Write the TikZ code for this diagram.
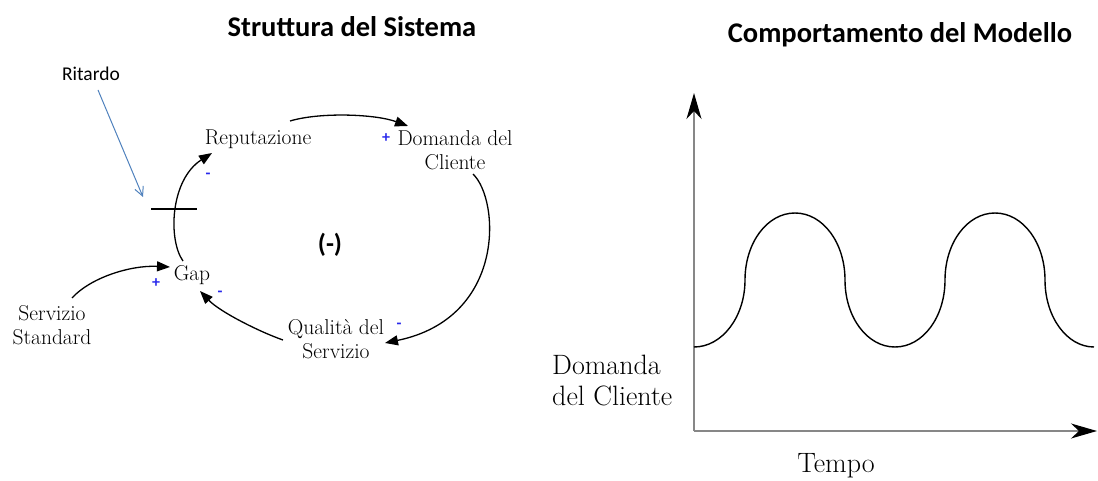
\documentclass[tikz,border=0pt]{standalone}
\usepackage{fontspec}
\newfontfamily\calibri{Carlito}
\usetikzlibrary{arrows.meta,calc}
\definecolor{signblue}{RGB}{40,40,235}
\definecolor{ritblue}{RGB}{79,129,189}
\definecolor{axisgrey}{RGB}{135,135,135}
\tikzset{
  lab/.style={font=\fontsize{21.5}{24}\selectfont, align=center, inner sep=0pt},
  biglab/.style={font=\fontsize{28}{31}\selectfont, align=left, inner sep=0pt},
  sign/.style={text=signblue, font=\calibri\bfseries\fontsize{16}{16}\selectfont, inner sep=0pt},
  title/.style={font=\calibri\bfseries\fontsize{28.5}{30}\selectfont, inner sep=0pt},
  link/.style={-{Triangle[length=13pt,width=10pt]}, line width=1.3pt},
  axis/.style={draw=axisgrey, line width=1.3pt, -{Stealth[length=26pt,width=15pt,inset=8pt,color=black]}},
}
\begin{document}
\begin{tikzpicture}[x=1pt,y=-1pt]
\useasboundingbox (0,0) rectangle (1098,481);
% titles
\node[title] (t1) at (352,27) {Struttura del Sistema};
\node[title] (t2) at (900,35) {Comportamento del Modello};
% loop nodes
\node[lab] (rep) at (258,139) {Reputazione};
\node[lab] (dom) at (455,150.5) {Domanda del\\Cliente};
\node[lab] (qual) at (336,339.5) {Qualità del\\Servizio};
\node[lab] (gap) at (192,275) {Gap};
\node[lab] (serv) at (52,325.5) {Servizio\\Standard};
\node[font=\calibri\bfseries\fontsize{26}{26}\selectfont, inner sep=0pt] (loop) at (330,245) {(-)};
\node[font=\calibri\fontsize{19.5}{20}\selectfont, inner sep=0pt] (rit) at (91,74) {Ritardo};
\coordinate (dl) at (174,209);
% signs
\node[sign] (s1) at (386,138) {+};
\node[sign] (s2) at (208,176) {-};
\node[sign] (s3) at (399,326) {-};
\node[sign] (s4) at (220,294) {-};
\node[sign] (s5) at (156,283) {+};
% connectors
\draw[link] ($(rep)+(32,-18)$) .. controls (320,112) and (375,114) .. ($(dom)+(-47,-24.5)$);
\draw[link] ($(dom)+(18,23.5)$) .. controls (500,200) and (506,318) .. ($(qual)+(49,3.5)$);
\draw[link] ($(qual)+(-53,0.5)$) .. controls (260,332) and (220,312) .. ($(gap)+(8,16)$);
\draw[link] ($(gap)+(-9,-14)$) .. controls (168,240) and (170,180) .. ($(rep)+(-46,14)$);
\draw[link] ($(serv)+(20,-27.5)$) .. controls (90,278) and (130,265) .. ($(gap)+(-22,-8)$);
% delay mark
\draw[line width=1.6pt] ($(dl)+(-23,0)$) -- ($(dl)+(23,0)$);
\draw[ritblue, line width=1pt, -{Straight Barb[length=9pt,width=9pt]}] ($(rit)+(7,16)$) -- ($(dl)+(-31,-12)$);
% graph
\coordinate (o) at (694,431);
\coordinate (ytop) at (694,93);
\coordinate (xend) at (1097,431);
\draw[axis] (o) -- (ytop);
\draw[axis] (o) -- (xend);
\draw[line width=1.4pt]
  (694,347) .. controls (722,347) and (745,317) .. (745,280)
  .. controls (745,243) and (767,213) .. (795,213)
  .. controls (823,213) and (845,243) .. (845,280)
  .. controls (845,317) and (867,347) .. (895,347)
  .. controls (923,347) and (945,317) .. (945,280)
  .. controls (945,243) and (967,213) .. (995,213)
  .. controls (1023,213) and (1045,243) .. (1045,280)
  .. controls (1045,317) and (1067,347) .. (1094,347);
\node[biglab, anchor=west] (ylab) at (552,381) {Domanda\\del Cliente};
\node[font=\fontsize{28}{31}\selectfont, inner sep=0pt] (xlab) at (836,466) {Tempo};
\end{tikzpicture}
\end{document}
